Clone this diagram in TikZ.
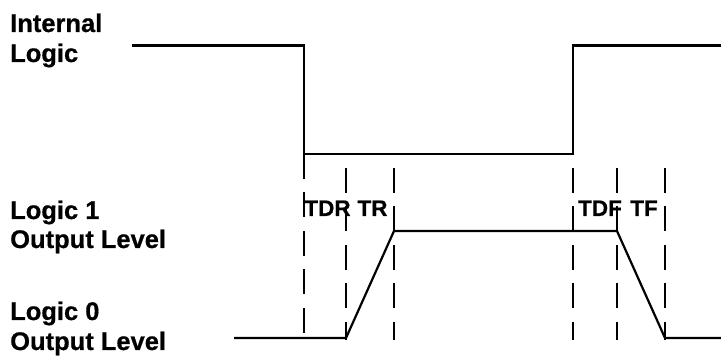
\documentclass[tikz,border=0pt]{standalone}
\usepackage{fontspec}
\setmainfont{Liberation Sans}[BoldFont={Liberation Sans Bold}]
\newfontfamily\lblfont{Liberation Sans Bold}[FakeBold=0.6]
\begin{document}
\begin{tikzpicture}[x=1pt,y=-1pt,
  lbl/.style={font=\lblfont\fontsize{25.5}{30}\selectfont, anchor=base west, inner sep=0pt},
  tlbl/.style={font=\lblfont\fontsize{22.5}{26}\selectfont, anchor=base, inner sep=0pt},
  sig/.style={line width=2.2pt, line join=miter},
  guide/.style={line width=1.3pt, dash pattern=on 25pt off 13.5pt}]
\useasboundingbox (0,0) rectangle (721,363);
% labels
\node[lbl] (il1) at (10,32) {Internal};
\node[lbl] (il2) at (10,62) {Logic};
\node[lbl] (l11) at (10,219) {Logic 1};
\node[lbl] (l12) at (10,248) {Output Level};
\node[lbl] (l01) at (10,320) {Logic 0};
\node[lbl] (l02) at (10,350) {Output Level};
% guides
\draw[guide] (304,154) -- (304,340);
\draw[guide] (346,168) -- (346,340);
\draw[guide] (394,168) -- (394,340);
\draw[guide] (573,168) -- (573,340);
\draw[guide] (617,168) -- (617,340);
\draw[guide] (665,168) -- (665,340);
% timing labels
\node[tlbl] (tdr) at (327.5,216) {TDR};
\node[tlbl] (tr) at (372.5,216) {TR};
\node[tlbl] (tdf) at (600,216) {TDF};
\node[tlbl] (tf) at (644,216) {TF};
% internal logic
\draw[sig] (132,45.5) -- (304,45.5) -- (304,154) -- (573,154) -- (573,45.5) -- (721,45.5);
% output
\draw[sig] (234,338) -- (346,338) -- (394,231) -- (617,231) -- (665,338) -- (721,338);
\end{tikzpicture}
\end{document}
